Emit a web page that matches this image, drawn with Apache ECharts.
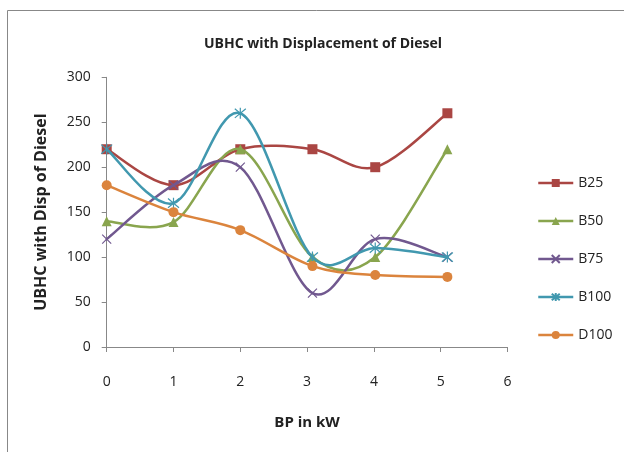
<!DOCTYPE html>
<html>
<head>
<meta charset="utf-8">
<script src="https://cdn.jsdelivr.net/npm/echarts@6/dist/echarts.min.js"></script>
<style>
  html, body { margin: 0; padding: 0; background: #fff; }
  #chart { width: 624px; height: 452px; }
</style>
</head>
<body>
<div id="chart"></div>
<script>
// Brake power (kW) at each measurement
const bp = [0, 1, 2, 3.08, 4.02, 5.1];

// UBHC readings per fuel blend
const b25  = [220, 180, 220, 220, 200, 260];
const b50  = [140, 139, 220, 100, 100, 220];
const b75  = [120, 180, 200, 60, 120, 100];
const b100 = [220, 160, 260, 100, 110, 100];
const d100 = [180, 150, 130, 90, 80, 78];

const seriesNames = ['B25', 'B50', 'B75', 'B100', 'D100'];
const seriesValues = [b25, b50, b75, b100, d100];
const colors = ['#AA4643', '#89A54E', '#71588F', '#4198AF', '#DB843D'];

const crossPath = 'path://M0,0L10,10M10,0L0,10';
const starPath = 'path://M0,0L10,10M10,0L0,10M5,-1L5,11';
const symbols = ['rect', 'triangle', crossPath, starPath, 'circle'];
const symbolSizes = [10, 10, 9, 11, 10];

const font = '"Open Sans", "Liberation Sans", sans-serif';
const LINE_W = 2.5;

// Smoothed curve through the points (cardinal spline, tension 1/6),
// built in pixel space from the axis coordinates.
function smoothCurve(values, color) {
  return function (params, api) {
    const pts = bp.map((x, k) => api.coord([x, values[k]]));
    const n = pts.length;
    const children = [];
    for (let k = 0; k < n - 1; k++) {
      const p0 = pts[Math.max(k - 1, 0)];
      const p1 = pts[k];
      const p2 = pts[k + 1];
      const p3 = pts[Math.min(k + 2, n - 1)];
      children.push({
        type: 'bezierCurve',
        shape: {
          x1: p1[0], y1: p1[1],
          cpx1: p1[0] + (p2[0] - p0[0]) / 6,
          cpy1: p1[1] + (p2[1] - p0[1]) / 6,
          cpx2: p2[0] - (p3[0] - p1[0]) / 6,
          cpy2: p2[1] - (p3[1] - p1[1]) / 6,
          x2: p2[0], y2: p2[1]
        },
        style: { stroke: color, lineWidth: LINE_W, fill: null, lineCap: 'round', lineJoin: 'round' }
      });
    }
    return { type: 'group', children: children };
  };
}

const chart = echarts.init(document.getElementById('chart'), null, { renderer: 'canvas' });

const curveSeries = seriesValues.map((vals, i) => ({
  type: 'custom',
  name: seriesNames[i] + '-curve',
  data: [[0, 0]],
  renderItem: smoothCurve(vals, colors[i]),
  silent: true,
  z: 2 + i * 2
}));

const markerSeries = seriesNames.map((name, i) => ({
  name: name,
  type: 'line',
  data: bp.map((x, k) => [x, seriesValues[i][k]]),
  symbol: symbols[i],
  symbolSize: symbolSizes[i],
  lineStyle: { color: colors[i], width: LINE_W, opacity: 0 },
  itemStyle: {
    color: colors[i],
    borderColor: colors[i],
    borderWidth: (i === 2 || i === 3) ? 1.2 : 0
  },
  emphasis: { disabled: true },
  z: 3 + i * 2
}));

chart.setOption({
  animation: false,
  backgroundColor: '#fff',
  graphic: [{
    type: 'rect',
    shape: { x: 7.5, y: 10.5, width: 700, height: 600 },
    style: { fill: 'none', stroke: '#888', lineWidth: 1 },
    z: -1
  }],
  title: {
    text: 'UBHC with Displacement of Diesel',
    left: 318,
    textAlign: 'center',
    top: 32,
    textStyle: { fontFamily: font, fontSize: 14, fontWeight: 'bold', color: '#222' }
  },
  legend: {
    orient: 'vertical',
    left: 532,
    top: 171,
    itemWidth: 35,
    itemHeight: 10,
    itemGap: 24,
    data: seriesNames.map((name, i) => ({
      name: name,
      lineStyle: { color: colors[i], width: LINE_W, opacity: 1 }
    })),
    textStyle: { fontFamily: font, fontSize: 14, color: '#222' }
  },
  grid: { left: 106.7, right: 116.5, top: 77.3, bottom: 105, containLabel: false },
  xAxis: {
    type: 'value',
    min: 0, max: 6, interval: 1,
    name: 'BP in kW',
    nameLocation: 'middle',
    nameGap: 68,
    nameTextStyle: { fontFamily: font, fontSize: 15, fontWeight: 'bold', color: '#222' },
    axisLine: { show: true, lineStyle: { color: '#888', width: 1 } },
    axisTick: { show: true, length: 5, lineStyle: { color: '#888' } },
    splitLine: { show: false },
    axisLabel: { fontFamily: font, fontSize: 14, color: '#222', margin: 28 }
  },
  yAxis: {
    type: 'value',
    min: 0, max: 300, interval: 50,
    name: 'UBHC with Disp of Diesel',
    nameLocation: 'middle',
    nameGap: 57,
    nameTextStyle: { fontFamily: font, fontSize: 16, fontWeight: 'bold', color: '#222' },
    axisLine: { show: true, lineStyle: { color: '#888', width: 1 } },
    axisTick: { show: true, length: 5, lineStyle: { color: '#888' } },
    splitLine: { show: false },
    axisLabel: { fontFamily: font, fontSize: 14, color: '#222', margin: 16 }
  },
  series: curveSeries.concat(markerSeries)
});
</script>
</body>
</html>
